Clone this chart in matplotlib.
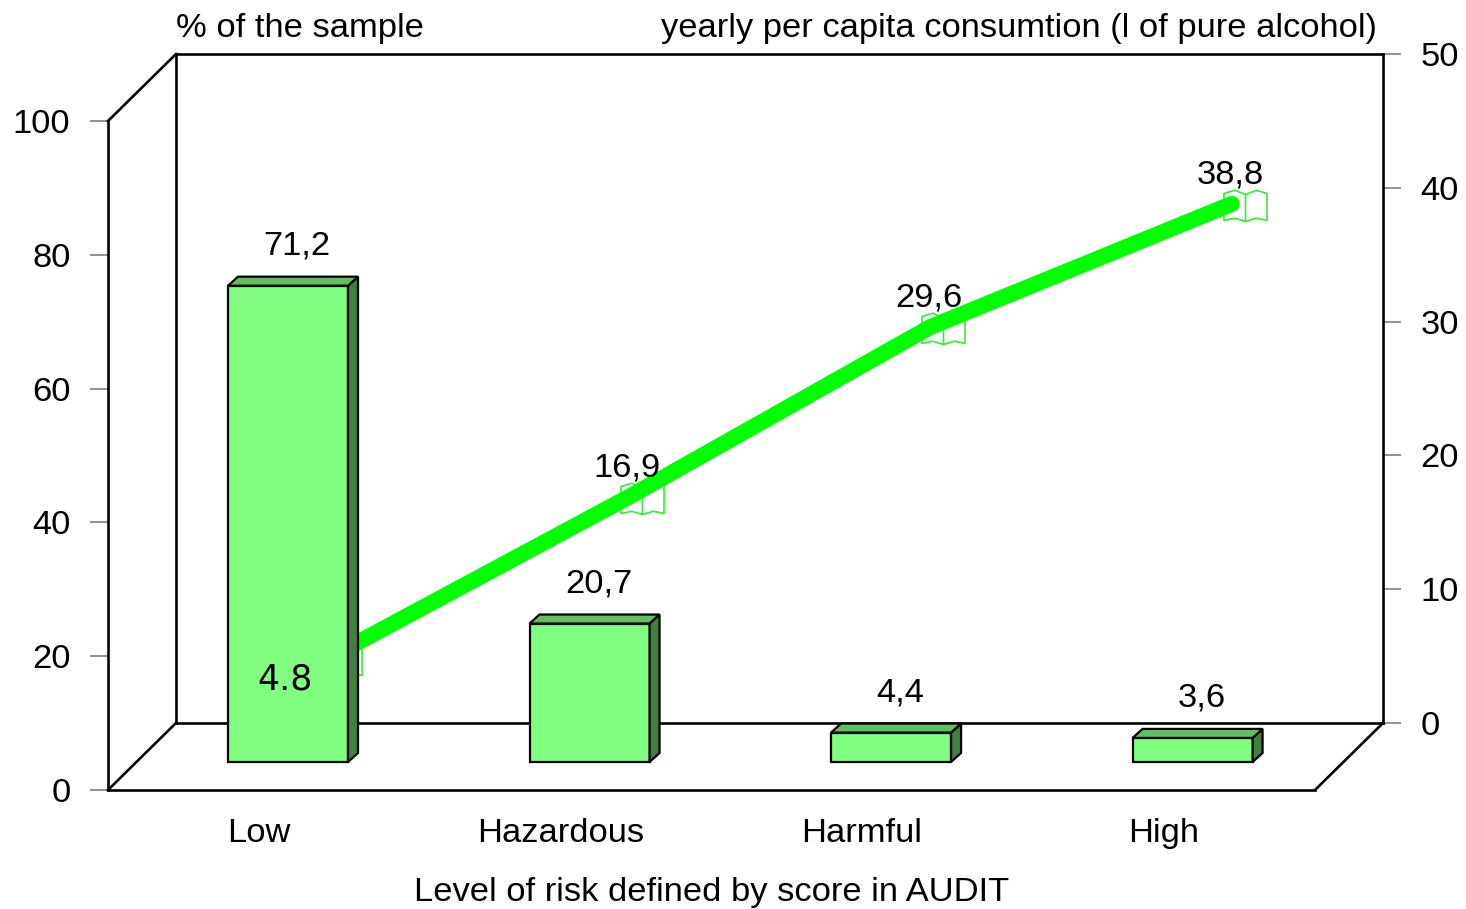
import numpy as np
import matplotlib
matplotlib.use('Agg')
import matplotlib.pyplot as plt
import matplotlib.transforms as mtrans
from matplotlib.path import Path
from matplotlib.patches import Polygon

plt.rcParams['font.family'] = ['Liberation Sans', 'DejaVu Sans']

# data
levels = ['Low', 'Hazardous', 'Harmful', 'High']
sample_pct = [71.2, 20.7, 4.4, 3.6]
pct_labels = ['71,2', '20,7', '4,4', '3,6']
consumption = [4.8, 16.9, 29.6, 38.8]
cons_labels = ['4.8', '16,9', '29,6', '38,8']

FS = 24.8
W, H = 1466, 909
fig = plt.figure(figsize=(W / 100, H / 100), dpi=100)


def px_box(l, b, r, t):
    return [l / W, 1 - b / H, (r - l) / W, (b - t) / H]


def shift(dx, dy):
    # offset in pixels (dpi 100), dy positive = up
    return mtrans.ScaledTranslation(dx / 100, dy / 100, fig.dpi_scale_trans)


ax2 = fig.add_axes(px_box(176, 723, 1383, 54))   # back wall, right axis
ax = fig.add_axes(px_box(108, 790, 1315, 121))   # front plane, left axis
ax2.set_zorder(1)
ax.set_zorder(2)
ax.patch.set_visible(False)

x = np.arange(len(levels))
ax.set_xlim(-0.597, 3.406)
ax.set_ylim(0, 100)
ax2.set_xlim(-0.502, 3.501)
ax2.set_ylim(0, 50)

# back wall + right axis
for s in ax2.spines.values():
    s.set_linewidth(1.9)
ax2.set_xticks([])
ax2.yaxis.tick_right()
ax2.set_yticks(range(0, 51, 10))
ax2.tick_params(axis='y', length=13, width=1.2, color='#808080', pad=14, labelsize=FS)

# line series
ax2.plot(x, consumption, color='#00ff00', lw=11.5, solid_capstyle='round',
         solid_joinstyle='round', zorder=3)
book = Path([(-1, -0.6), (-1, 0.65), (-0.5, 0.8), (0, 0.6), (0.5, 0.8), (1, 0.65),
             (1, -0.6), (0.5, -0.5), (0, -0.65), (-0.5, -0.5), (-1, -0.6),
             (0, 0.6), (0, -0.65)],
            [Path.MOVETO] + [Path.LINETO] * 9 + [Path.CLOSEPOLY, Path.MOVETO, Path.LINETO])
ax2.plot(x, consumption, ls='none', marker=book, ms=31, mfc='none', mec='#33ee33', mew=1.2,
         transform=ax2.transData + shift(13, -3), zorder=2)
for i in range(1, len(x)):
    ax2.annotate(cons_labels[i], (x[i], consumption[i]), xytext=(-2 * 0.72, 29 * 0.72),
                 textcoords='offset points', ha='center', va='center', fontsize=FS)

# front plane
ax.spines['top'].set_visible(False)
ax.spines['right'].set_visible(False)
ax.spines['left'].set_linewidth(1.9)
ax.spines['bottom'].set_linewidth(1.9)
ax.set_yticks(range(0, 101, 20))
ax.tick_params(axis='y', length=13, width=1.2, color='#808080', pad=14, labelsize=FS)
ax.set_xticks(x - 29 / 301.5)
ax.set_xticklabels(levels)
ax.tick_params(axis='x', length=0, pad=20, labelsize=FS)
ax.set_xlabel('Level of risk defined by score in AUDIT', fontsize=FS, labelpad=20)

dk = dict(color='black', lw=1.9, transform=ax.transAxes, clip_on=False)
ax.plot([0, 68 / 1207], [1, 1 + 67 / 669], **dk)
ax.plot([0, 68 / 1207], [0, 67 / 669], **dk)
ax.plot([1, 1 + 68 / 1207], [0, 67 / 669], **dk)

# 3d bars
bw = 0.398
ddx = 10 / 301.5
ddy = 9 / 6.69
bar_tr = ax.transData + shift(0, 28)
ax.bar(x, sample_pct, bw, color='#80ff80', edgecolor='black', lw=1.6,
       transform=bar_tr, clip_on=False, zorder=3)
for xi, h in zip(x, sample_pct):
    r = xi + bw / 2
    l = xi - bw / 2
    side = Polygon([(r, 0), (r + ddx, ddy), (r + ddx, h + ddy), (r, h)], closed=True,
                   facecolor='#408040', edgecolor='black', lw=1.6, transform=bar_tr,
                   clip_on=False, zorder=3)
    top = Polygon([(l, h), (l + ddx, h + ddy), (r + ddx, h + ddy), (r, h)], closed=True,
                  facecolor='#60c060', edgecolor='black', lw=1.6, transform=bar_tr,
                  clip_on=False, zorder=3)
    ax.add_patch(side)
    ax.add_patch(top)
for xi, h, lab in zip(x, sample_pct, pct_labels):
    ax.annotate(lab, (xi, h), xycoords=bar_tr, xytext=(9 * 0.72, 40 * 0.72),
                textcoords='offset points', ha='center', va='center', fontsize=FS)

ax.annotate(cons_labels[0], (x[0], consumption[0]), xycoords=ax2.transData,
            xytext=(-42 * 0.72, -21 * 0.72), textcoords='offset points',
            ha='center', va='center', fontsize=25, family='DejaVu Sans', zorder=5)

fig.text(176 / W, 1 - 28 / H, '% of the sample', ha='left', va='center', fontsize=FS)
fig.text(1377 / W, 1 - 28 / H, 'yearly per capita consumtion (l of pure alcohol)',
         ha='right', va='center', fontsize=FS)

fig.savefig('out.png', dpi=100)
